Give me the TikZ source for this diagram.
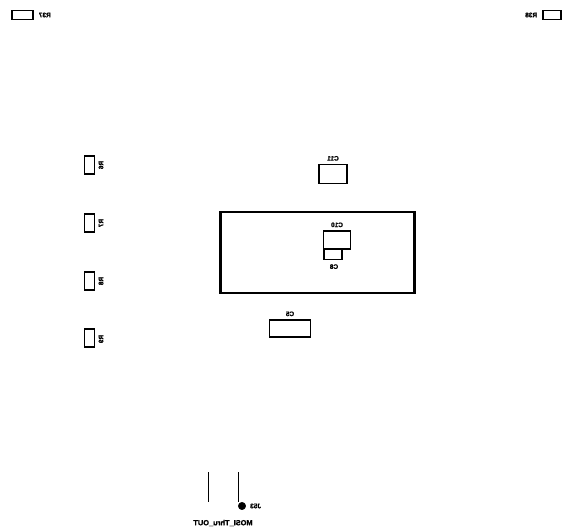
\documentclass[tikz,border=0pt]{standalone}
\usepackage{fontspec}
\setmainfont{Liberation Sans}[BoldFeatures={FakeBold=1.6}]
\usetikzlibrary{positioning}
\newcommand{\mirrortext}[1]{\scalebox{-1}[1]{\bfseries #1}}
\begin{document}
\begin{tikzpicture}[
	x=1pt, y=-1pt,
	part/.style = {draw,line width=1.3pt,inner sep=0pt},
	board/.style = {draw,line width=2.4pt,inner sep=0pt},
	silk/.style = {inner sep=0pt,font=\fontsize{6.5}{7}\selectfont},
	silkwide/.style = {inner sep=0pt,font=\fontsize{7.4}{8}\selectfont},
	pin/.style = {draw,fill,circle,inner sep=0pt,minimum size=7.5pt}
	]
	\useasboundingbox (0,0) rectangle (565,529);

	% top corners
	\node[part,minimum width=21pt,minimum height=9pt] (R37) at (22.5,15) {};
	\node[part,minimum width=18pt,minimum height=9pt] (R38) at (552,15) {};
	\node[silk,right=5pt of R37] (R37l) {\mirrortext{R37}};
	\node[silk,left=5pt of R38] (R38l) {\mirrortext{R38}};

	% left column
	\node[part,minimum width=10pt,minimum height=18pt] (R6) at (89.5,165) {};
	\node[part,minimum width=10pt,minimum height=18pt] (R7) at (89.5,223) {};
	\node[part,minimum width=10pt,minimum height=18pt] (R8) at (89.5,281) {};
	\node[part,minimum width=10pt,minimum height=18pt] (R9) at (89.5,338) {};
	\node[silk,rotate=90] (R6l) at (101,165) {\mirrortext{R6}};
	\node[silk,rotate=90] (R7l) at (101,223) {\mirrortext{R7}};
	\node[silk,rotate=90] (R8l) at (101,281) {\mirrortext{R8}};
	\node[silk,rotate=90] (R9l) at (101,339) {\mirrortext{R9}};

	% board outline
	\node[board,minimum width=194pt,minimum height=81pt] (U1) at (317.5,252.5) {};

	\node[part,minimum width=28pt,minimum height=19pt] (C11) at (333,174) {};
	\node[part,minimum width=27pt,minimum height=18pt] (C10) at (337,240) {};
	\node[part,minimum width=18pt,minimum height=10pt] (C8) at (333,254.5) {};
	\node[part,minimum width=41pt,minimum height=17pt] (C5) at (290,328.5) {};
	\node[silk,above=3pt of C11] (C11l) {\mirrortext{C11}};
	\node[silk,above=3pt of C10] (C10l) {\mirrortext{C10}};
	\node[silk,below=4pt of C8,xshift=1pt] (C8l) {\mirrortext{C8}};
	\node[silk,above=3pt of C5] (C5l) {\mirrortext{C5}};

	% connector
	\coordinate (J1) at (208,472);
	\coordinate (J2) at (208,502);
	\coordinate (J3) at (238,472);
	\coordinate (J4) at (238,502);
	\draw[line width=1pt] (J1) -- (J2);
	\draw[line width=1pt] (J3) -- (J4);
	\node[pin] (J53p) at (242,506) {};
	\node[silk,right=4pt of J53p] (J53l) {\mirrortext{J53}};
	\node[silkwide] (J53n) at (223,523) {\mirrortext{MOSI\_Thru\_OUT}};

\end{tikzpicture}
\end{document}
